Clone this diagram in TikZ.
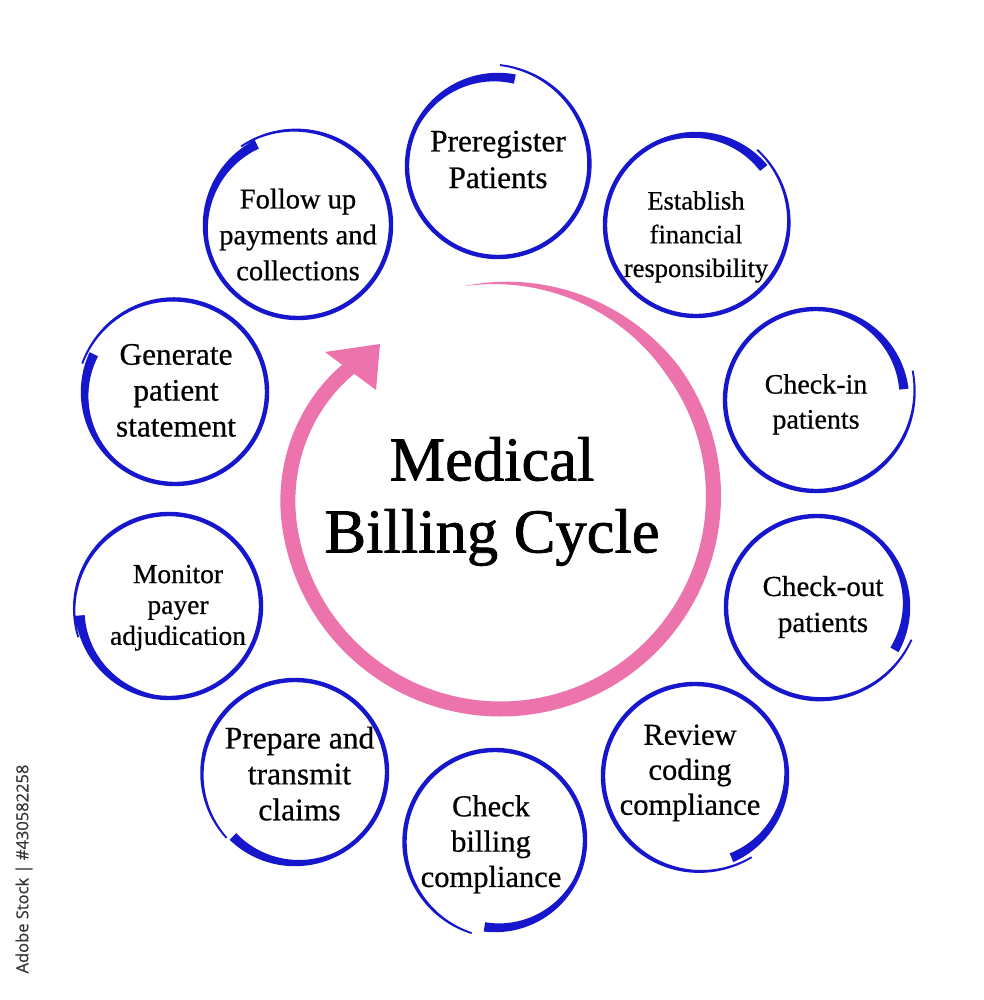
\documentclass[tikz,border=0pt]{standalone}
\usepackage{fontspec}
\setmainfont{Liberation Serif}
\newfontfamily\lblfont{Liberation Serif}[FakeBold=0.6]
\newfontfamily\ttlfont{Liberation Serif}[FakeBold=1.2]
\newfontfamily\wmfont{Open Sans}[FakeBold=0.5]
\definecolor{ringblue}{RGB}{22,22,205}
\definecolor{arrowpink}{RGB}{236,115,172}
\newcommand\handring[6]{%
  \def\hcX{#1}\def\hcY{#2}\def\rr{#3}\def\hcA{#4}\def\hcS{#5}\def\dt{#6}%
  \fill[ringblue] plot[domain=0:1,samples=180]
    ({\hcX+(br(\x)+bw(\x)/2)*cos(\hcA+\hcS*\x)},{\hcY-(br(\x)+bw(\x)/2)*sin(\hcA+\hcS*\x)})
    -- plot[domain=1:0,samples=180]
    ({\hcX+(br(\x)-bw(\x)/2)*cos(\hcA+\hcS*\x)},{\hcY-(br(\x)-bw(\x)/2)*sin(\hcA+\hcS*\x)})
    -- cycle;}
\begin{document}
\begin{tikzpicture}[x=1pt,y=-1pt,
  declare function={
    bw(\s)=4.4+5*max(0,1-\s/0.2)-2.6*max(0,(\s-0.8)/0.2);
    bq(\s)=max(0,(\s-0.7)/0.3);
    br(\s)=\rr-2.5*max(0,1-\s/0.2)+\dt*bq(\s)*bq(\s);
    pw(\s)=15*min(1,\s/0.2);
    pq(\s)=max(0,(\s-0.85)/0.15);
    pr(\s)=213-15*pq(\s)*pq(\s);
  },
  lbl/.style={align=center,inner sep=0pt,text=black}]
\fill[white] (0,0) rectangle (983,1000);
\useasboundingbox (0,0) rectangle (983,1000);

% pink cycle arrow
\fill[arrowpink] plot[domain=0:1,samples=240]
  ({500.5+(pr(\x)+pw(\x)/2)*cos(100-320*\x)},{496-(pr(\x)+pw(\x)/2)*sin(100-320*\x)})
  -- plot[domain=1:0,samples=240]
  ({500.5+(pr(\x)-pw(\x)/2)*cos(100-320*\x)},{496-(pr(\x)-pw(\x)/2)*sin(100-320*\x)})
  -- cycle;
\coordinate (tip) at (380,344);
\coordinate (barbA) at (325,352);
\coordinate (barbB) at (376,390);
\fill[arrowpink] (tip) -- (barbA) -- (barbB) -- cycle;

% hand-drawn rings
\handring{498}{166}{91}{79}{370}{10}
\handring{696}{225}{91}{40}{371}{6}
\handring{816}{400}{91}{7}{370}{10}
\handring{817}{607}{91}{-29}{370}{9}
\handring{695}{776}{92}{-66}{371}{7}
\handring{495}{840}{90}{-97}{353}{6}
\handring{295}{772}{92}{-134}{358}{3}
\handring{169}{606}{92}{186}{373}{4}
\handring{175}{392}{92}{155}{368}{5}
\handring{298}{225}{93}{117}{369}{4}

% labels
\node[lbl,font=\lblfont\fontsize{31.3}{36.6}\selectfont] (n1) at (498,159.5) {Preregister\\Patients};
\node[lbl,font=\lblfont\fontsize{26.5}{33.7}\selectfont] (n2) at (696,236.9) {Establish\\financial\\responsibility};
\node[lbl,font=\lblfont\fontsize{28}{35}\selectfont] (n3) at (816,404.3) {Check-in\\patients};
\node[lbl,font=\lblfont\fontsize{29}{36}\selectfont] (n4) at (823,607) {Check-out\\patients};
\node[lbl,font=\lblfont\fontsize{30.5}{35}\selectfont] (n5) at (690,772.9) {Review\\coding\\compliance};
\node[lbl,font=\lblfont\fontsize{30.5}{35.3}\selectfont] (n6) at (491,844.3) {Check\\billing\\compliance};
\node[lbl,font=\lblfont\fontsize{31.5}{35.9}\selectfont] (n7) at (299.5,773.6) {Prepare and\\transmit\\claims};
\node[lbl,font=\lblfont\fontsize{27.5}{30.9}\selectfont] (n8) at (178,607.8) {Monitor\\payer\\adjudication};
\node[lbl,font=\lblfont\fontsize{31.3}{35.9}\selectfont] (n9) at (176,390.4) {Generate\\patient\\statement};
\node[lbl,font=\lblfont\fontsize{28.5}{35.9}\selectfont] (n10) at (298,234.6) {Follow up\\payments and\\collections};

\node[lbl,font=\ttlfont\fontsize{62.5}{72}\selectfont] (title) at (492,501.5) {Medical\\Billing Cycle};

\node[inner sep=0pt,rotate=90,text=black!80,font=\wmfont\fontsize{16.5}{18}\selectfont] (wm) at (24,869) {Adobe Stock | \#430582258};
\end{tikzpicture}
\end{document}
